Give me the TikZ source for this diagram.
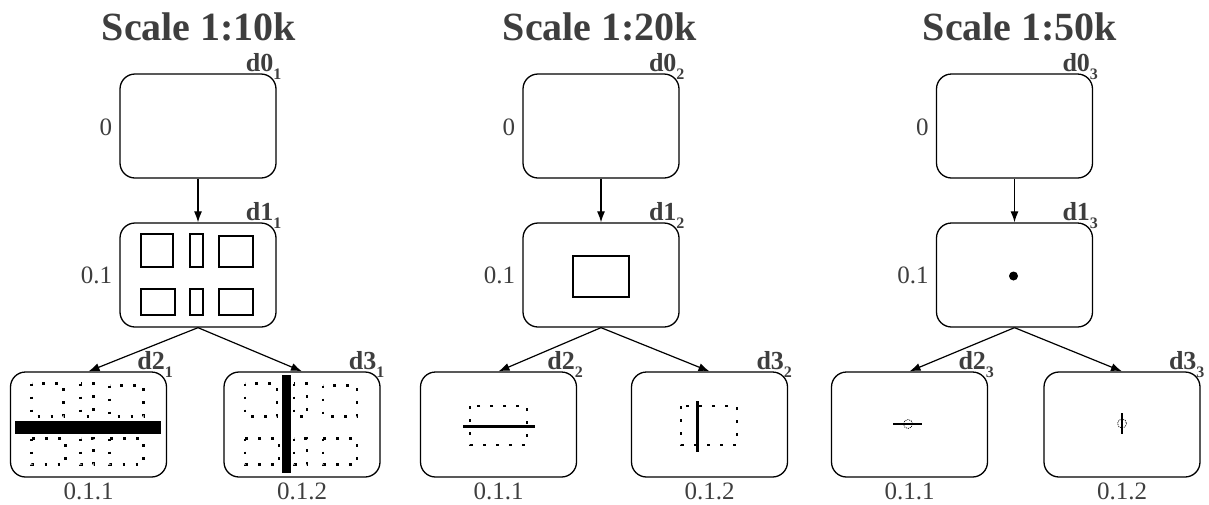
\documentclass[tikz,border=0pt]{standalone}
\usepackage{fontspec}
\setmainfont{Liberation Serif}
\usetikzlibrary{arrows.meta,calc}

\definecolor{txt}{HTML}{3E3E3E}

\newcommand\dlab[2]{\textbf{#1\raisebox{-8pt}{\fontsize{16}{16}\selectfont\bfseries #2}}}

% the six blocks of the 1:10k detail view
\newcommand\sixblocks{%
  \draw (141,234) rectangle (173,267);
  \draw (190,234) rectangle (203,267);
  \draw (219,236) rectangle (253,267);
  \draw (141,289) rectangle (175,315);
  \draw (190,289) rectangle (203,315);
  \draw (219,289) rectangle (253,315);
}

\tikzset{
  x=1pt, y=-1pt,
  box/.style={draw=black, line width=1.3pt, rounded corners=15pt,
    minimum width=156pt, minimum height=104pt, inner sep=0pt},
  arr/.style={draw=black, line width=1.2pt, -{Latex[length=11pt,width=8pt]}},
  title/.style={text=txt, font=\bfseries\fontsize{40}{48}\selectfont, inner sep=0pt, anchor=base},
  lvl/.style={text=txt, font=\fontsize{25}{30}\selectfont, inner sep=0pt},
  dl/.style={text=txt, font=\fontsize{26}{30}\selectfont, inner sep=0pt, anchor=base east},
  solidblk/.style={line width=2.6pt, line join=miter},
  dotblk/.style={line width=2.6pt, dash pattern=on 2.6pt off 10.4pt},
  thinring/.style={line width=0.7pt, dash pattern=on 1pt off 1pt},
}

\begin{document}
\begin{tikzpicture}
\useasboundingbox (0,0) rectangle (1209,504);

% ---------- titles ----------
\node[title] (t1) at (199,40) {Scale 1:10k};
\node[title] (t2) at (600,40) {Scale 1:20k};
\node[title] (t3) at (1020,40) {Scale 1:50k};

% ---------- boxes ----------
\foreach \p/\cx/\lx/\rx in {1/198/88.5/302, 2/601/498.5/709.5, 3/1014.5/909.5/1122}{
  \node[box] (a\p0) at (\cx,126) {};
  \node[box] (a\p1) at (\cx,275) {};
  \node[box, minimum height=105pt] (a\p2) at (\lx,424.5) {};
  \node[box, minimum height=105pt] (a\p3) at (\rx,424.5) {};

  \draw[arr] (a\p0.south) -- (a\p1.north);
  \draw[arr] (a\p1.south) -- (a\p2.north);
  \draw[arr] (a\p1.south) -- (a\p3.north);

  \node[dl] (n\p0) at ($(a\p0.north east)+(5,-2)$) {\dlab{d0}{\p}};
  \node[dl] (n\p1) at ($(a\p1.north east)+(5,-2)$) {\dlab{d1}{\p}};
  \node[dl] (n\p2) at ($(a\p2.north east)+(6,-2)$) {\dlab{d2}{\p}};
  \node[dl] (n\p3) at ($(a\p3.north east)+(4,-2)$) {\dlab{d3}{\p}};

  \node[lvl, anchor=east] (l\p0) at ($(a\p0.west)+(-7,1)$) {0};
  \node[lvl, anchor=east] (l\p1) at ($(a\p1.west)+(-7,0)$) {0.1};
  \node[lvl, anchor=base] (l\p2) at ($(a\p2.south)+(0,22)$) {0.1.1};
  \node[lvl, anchor=base] (l\p3) at ($(a\p3.south)+(0,22)$) {0.1.2};
}

% ---------- scale 1:10k contents ----------
\begin{scope}[solidblk]
  \sixblocks
\end{scope}
\begin{scope}[shift={(-109.5,149.5)}, dotblk]
  \sixblocks
\end{scope}
\fill[black] (15,421) rectangle (161,434);
\begin{scope}[shift={(104,149.5)}, dotblk]
  \sixblocks
\end{scope}
\fill[black] (282,375) rectangle (291,473);

% ---------- scale 1:20k contents ----------
\draw[solidblk] (573,256) rectangle (629,297);
\draw[dotblk] (470,406) rectangle (527,445);
\draw[line width=3pt] (463,426) -- (535,426);
\draw[dotblk] (681,406) rectangle (737,445);
\draw[line width=3pt] (697.5,401) -- (697.5,452);

% ---------- scale 1:50k contents ----------
\fill[black] (1013.5,276) circle[radius=4.5];
\draw[line width=1.3pt] (893,424) -- (922,424);
\draw[thinring] (908,424) circle[radius=4.5];
\draw[line width=1.3pt] (1122,413) -- (1122,434);
\draw[thinring] (1122,423.5) circle[radius=4.5];
\end{tikzpicture}
\end{document}
